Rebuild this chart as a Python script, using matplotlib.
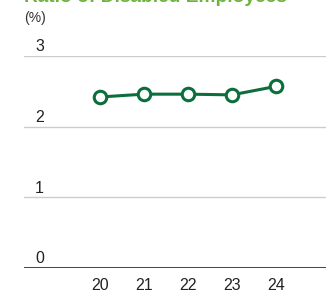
import matplotlib.pyplot as plt

years = ['20', '21', '22', '23', '24']
ratio = [2.42, 2.46, 2.46, 2.45, 2.57]
y_ticks = [0, 1, 2, 3]

plt.rcParams['font.family'] = ['Liberation Sans', 'DejaVu Sans']

fig = plt.figure(figsize=(3.26, 2.92), dpi=100)
ax = fig.add_axes([24 / 326, 24 / 292, 302 / 326, 212 / 292])

x = list(range(len(years)))
ax.plot(x, ratio, color='#0b6e3c', lw=2.2, marker='o', markersize=9,
        markerfacecolor='white', markeredgewidth=2.2, zorder=3)

ax.set_xlim(-1.727, 5.136)
ax.set_ylim(0, 3)
ax.set_xticks(x)
ax.set_xticklabels(years, fontsize=11.5, color='#222222')
ax.tick_params(axis='x', length=0, pad=7)
ax.set_yticks([])

for v in y_ticks:
    if v == 0:
        ax.axhline(v, color='#222222', lw=1.2, zorder=2)
    else:
        ax.axhline(v, color='#cccccc', lw=1.0, zorder=1)
    ax.text(-1.727 + 11 / 44, v + 0.025, str(v), fontsize=11.5,
            color='#222222', ha='left', va='bottom')

for s in ax.spines.values():
    s.set_visible(False)

fig.text(24 / 326, 1 - 18 / 292, '(%)', fontsize=10, color='#333333',
         ha='left', va='center')
fig.text(24 / 326, 1 - 2 / 292, 'Ratio of Disabled Employees', fontsize=13.8,
         fontweight='bold', color='#6db33f', ha='left', va='baseline')

fig.savefig('out.png', dpi=100)
